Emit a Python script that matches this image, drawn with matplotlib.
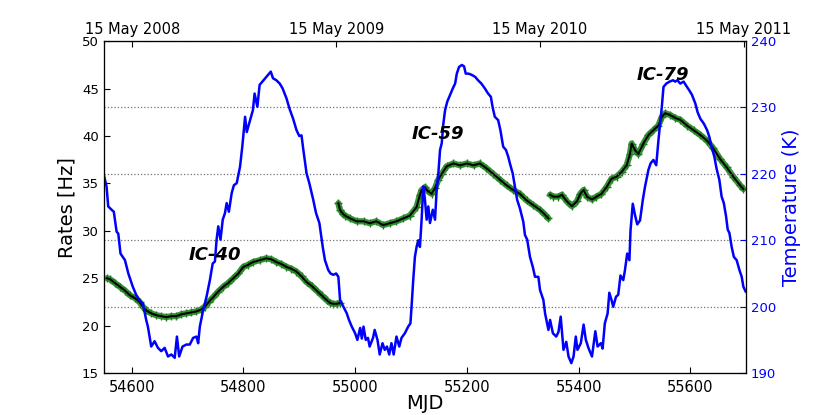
import matplotlib
matplotlib.use("Agg")
import matplotlib.pyplot as plt

# ---------------- data ----------------
temp_mjd = [54550, 54555, 54558, 54564, 54568, 54573, 54576, 54580, 54588, 54594,
            54602, 54608, 54614, 54620, 54626, 54629, 54635, 54641, 54647, 54653,
            54659, 54665, 54671, 54677, 54681, 54685, 54691, 54698, 54704, 54710,
            54716, 54719, 54722, 54728, 54734, 54740, 54745, 54749, 54752, 54755,
            54759, 54763, 54767, 54770, 54774, 54779, 54783, 54788, 54794, 54798,
            54803, 54806, 54811, 54817, 54820, 54825, 54829, 54835, 54841, 54849,
            54853, 54859, 54865, 54870, 54877, 54883, 54889, 54895, 54900, 54904,
            54907, 54913, 54918, 54925, 54930, 54936, 54942, 54946, 54952, 54956,
            54961, 54966, 54970, 54973, 54979, 54985, 54989, 54994, 55000, 55004,
            55009, 55012, 55015, 55019, 55023, 55026, 55032, 55035, 55040, 55044,
            55049, 55053, 55057, 55061, 55065, 55069, 55074, 55079, 55083, 55089,
            55095, 55099, 55101, 55104, 55107, 55110, 55113, 55116, 55119, 55122,
            55125, 55128, 55131, 55134, 55139, 55143, 55146, 55149, 55152, 55155,
            55158, 55161, 55165, 55170, 55175, 55179, 55182, 55186, 55191, 55195,
            55198, 55203, 55209, 55215, 55220, 55226, 55232, 55238, 55243, 55246,
            55250, 55256, 55260, 55265, 55270, 55274, 55277, 55282, 55286, 55290,
            55295, 55301, 55304, 55308, 55313, 55318, 55322, 55328, 55331, 55337,
            55340, 55346, 55349, 55354, 55360, 55364, 55368, 55373, 55378, 55382,
            55387, 55391, 55395, 55398, 55404, 55409, 55413, 55418, 55424, 55430,
            55434, 55440, 55443, 55447, 55452, 55455, 55459, 55462, 55467, 55471,
            55475, 55480, 55483, 55487, 55491, 55493, 55497, 55501, 55505, 55510,
            55515, 55519, 55525, 55529, 55534, 55539, 55543, 55546, 55549, 55552,
            55557, 55563, 55569, 55573, 55577, 55582, 55588, 55594, 55598, 55603,
            55609, 55613, 55618, 55624, 55630, 55634, 55638, 55643, 55647, 55652,
            55656, 55660, 55664, 55667, 55670, 55674, 55678, 55683, 55688, 55692,
            55695, 55699]
temp_k = [219.9, 218.1, 215.1, 214.6, 214.3, 211.3, 211.0, 208.0, 207.0, 205.0,
          203.0, 201.8, 201.0, 200.5, 198.0, 197.0, 194.0, 194.8, 193.8, 193.3,
          193.8, 192.5, 192.8, 192.3, 195.5, 192.5, 194.0, 194.3, 194.3, 195.3,
          195.5, 194.5, 197.0, 199.5, 201.5, 204.0, 206.5, 206.8, 210.1, 212.1,
          210.1, 213.1, 214.1, 215.6, 214.3, 217.1, 218.3, 218.6, 221.1, 224.1,
          228.6, 226.3, 227.8, 229.6, 232.1, 230.1, 233.4, 234.0, 234.6, 235.4,
          234.4, 234.1, 233.6, 232.9, 231.4, 229.7, 228.3, 226.6, 225.7, 225.8,
          223.8, 220.1, 218.6, 216.1, 214.1, 212.6, 209.0, 207.0, 205.5, 205.0,
          204.8, 205.0, 204.5, 201.0, 200.0, 199.0, 198.0, 197.0, 196.0, 195.0,
          196.8, 195.2, 197.0, 195.0, 195.3, 194.0, 195.3, 196.5, 195.0, 192.8,
          194.5, 193.5, 194.0, 192.8, 194.5, 192.8, 195.5, 194.0, 195.3, 196.0,
          197.0, 197.5, 200.0, 204.0, 207.5, 209.0, 210.0, 209.0, 213.1, 218.1,
          216.1, 213.1, 215.1, 212.6, 214.6, 213.1, 217.6, 220.1, 223.6, 224.6,
          227.6, 229.6, 230.9, 231.9, 232.9, 233.6, 235.1, 236.1, 236.4, 236.2,
          235.1, 235.1, 234.9, 234.6, 234.1, 233.6, 232.9, 232.1, 231.6, 230.1,
          228.6, 228.1, 226.6, 224.1, 223.6, 222.6, 221.6, 220.1, 218.1, 216.1,
          214.8, 212.8, 210.8, 210.1, 207.5, 206.0, 204.5, 204.5, 202.5, 201.0,
          199.0, 196.5, 198.0, 196.0, 195.5, 196.2, 198.5, 193.5, 194.7, 192.5,
          191.5, 192.5, 195.5, 193.5, 194.5, 197.3, 195.0, 193.7, 192.5, 196.3,
          194.0, 194.5, 193.7, 197.5, 199.0, 202.1, 201.0, 200.0, 201.5, 201.8,
          204.7, 204.0, 205.5, 208.0, 207.0, 211.5, 215.5, 213.8, 212.4, 213.0,
          216.1, 218.1, 220.6, 221.6, 222.1, 221.3, 225.1, 227.6, 230.1, 233.1,
          233.6, 233.9, 234.1, 233.9, 234.1, 233.6, 233.9, 233.1, 232.6, 231.9,
          230.6, 229.3, 228.3, 227.6, 226.6, 225.6, 224.1, 222.6, 220.8, 219.1,
          216.6, 215.6, 213.6, 211.6, 211.1, 209.0, 207.5, 207.0, 205.5, 204.5,
          203.0, 202.3]

ic40_mjd = [54556, 54561, 54570, 54579, 54588, 54597, 54606, 54614, 54620, 54626,
            54635, 54644, 54653, 54662, 54671, 54680, 54689, 54698, 54707, 54716,
            54724, 54731, 54738, 54746, 54755, 54764, 54773, 54782, 54791, 54800,
            54808, 54817, 54829, 54841, 54850, 54859, 54868, 54877, 54886, 54895,
            54904, 54913, 54922, 54931, 54940, 54949, 54955, 54961, 54967, 54973]
ic40_rate = [25.0, 24.9, 24.5, 24.1, 23.7, 23.2, 22.9, 22.5, 22.0, 21.6,
             21.3, 21.1, 21.0, 20.9, 21.0, 21.0, 21.2, 21.3, 21.4, 21.5,
             21.7, 22.0, 22.5, 23.0, 23.6, 24.1, 24.5, 25.0, 25.5, 26.2,
             26.4, 26.7, 26.9, 27.1, 27.0, 26.7, 26.5, 26.2, 26.0, 25.7,
             25.2, 24.6, 24.2, 23.7, 23.2, 22.7, 22.4, 22.3, 22.3, 22.4]

ic59_mjd = [54970, 54973, 54978, 54982, 54991, 55003, 55015, 55026, 55038, 55050,
            55062, 55074, 55086, 55098, 55110, 55116, 55119, 55125, 55128, 55137,
            55143, 55149, 55155, 55164, 55176, 55188, 55200, 55212, 55223, 55235,
            55247, 55259, 55271, 55283, 55295, 55307, 55319, 55331, 55340, 55346]
ic59_rate = [32.9, 32.2, 31.8, 31.6, 31.3, 31.0, 31.0, 30.8, 31.0, 30.6,
             30.8, 31.0, 31.3, 31.6, 32.5, 33.8, 34.3, 34.6, 34.3, 33.9,
             34.5, 35.4, 36.0, 36.8, 37.1, 36.9, 37.1, 36.9, 37.1, 36.6,
             36.0, 35.4, 34.8, 34.3, 33.9, 33.2, 32.7, 32.2, 31.7, 31.3]

ic79_mjd = [55349, 55355, 55364, 55370, 55379, 55388, 55397, 55403, 55409, 55415,
            55424, 55432, 55441, 55450, 55459, 55468, 55477, 55486, 55492, 55495,
            55501, 55507, 55516, 55525, 55534, 55543, 55549, 55555, 55564, 55573,
            55582, 55594, 55606, 55618, 55630, 55641, 55653, 55665, 55677, 55689,
            55695]
ic79_rate = [33.8, 33.6, 33.6, 33.8, 33.1, 32.6, 33.1, 33.9, 34.3, 33.6,
             33.3, 33.6, 33.9, 34.6, 35.5, 35.7, 36.2, 36.9, 38.1, 39.2,
             38.5, 38.1, 39.2, 40.1, 40.6, 41.1, 42.0, 42.4, 42.2, 41.9,
             41.7, 41.1, 40.6, 40.1, 39.5, 38.7, 37.6, 36.7, 35.7, 34.8,
             34.4]

season_labels = ["IC-40", "IC-59", "IC-79"]
season_label_pos = [(54749, 27.4), (55148, 40.2), (55551, 46.4)]

date_tick_mjd = [54601, 54966, 55331, 55696]
date_tick_labels = ["15 May 2008", "15 May 2009", "15 May 2010", "15 May 2011"]

# ---------------- plot ----------------
plt.rcParams['font.family'] = ['DejaVu Sans']
fig = plt.figure(figsize=(8.3, 4.15), dpi=100)
ax1 = fig.add_axes([0.125, 0.101, 0.774, 0.8])

green = '#1a801a'
for mj, rt in [(ic40_mjd, ic40_rate), (ic59_mjd, ic59_rate), (ic79_mjd, ic79_rate)]:
    ax1.plot(mj, rt, color=green, lw=4.5, alpha=0.85, solid_capstyle='round', zorder=2)
    ax1.plot(mj, rt, ls='none', marker='+', ms=6, mew=1.0, color=green, zorder=3)
    ax1.plot(mj, rt, color='black', lw=1.4, zorder=4)

ax1.set_xlim(54550, 55700)
ax1.set_ylim(15, 50)
ax1.set_xticks([54600, 54800, 55000, 55200, 55400, 55600])
ax1.set_yticks([15, 20, 25, 30, 35, 40, 45, 50])
ax1.tick_params(axis='x', direction='in', labelsize=10.5, pad=5, length=4)
ax1.tick_params(axis='y', direction='in', labelsize=9.5, length=4)
ax1.set_xlabel('MJD', fontsize=14, labelpad=-1)
ax1.set_ylabel('Rates [Hz]', fontsize=14, labelpad=4)

ax2 = ax1.twinx()
ax2.plot(temp_mjd, temp_k, color='#0000ff', lw=1.8, zorder=3)
ax2.set_ylim(190, 240)
ax2.set_yticks([190, 200, 210, 220, 230, 240])
ax2.tick_params(axis='y', direction='in', colors='#0000ff', labelsize=9.5, length=4)
ax2.spines['right'].set_color('black')
ax2.set_ylabel('Temperature (K)', color='#0000ff', fontsize=14, labelpad=4)
ax2.grid(axis='y', linestyle=':', color='0.45', lw=0.9)
ax2.set_xlim(54550, 55700)

for lab, (xm, yr) in zip(season_labels, season_label_pos):
    ax2.text(xm, yr, lab, transform=ax1.transData, fontsize=13, fontweight='bold',
             fontstyle='italic', ha='center', va='center', zorder=10)

ax3 = ax1.twiny()
ax3.set_xlim(54550, 55700)
ax3.set_xticks(date_tick_mjd)
ax3.set_xticklabels(date_tick_labels)
ax3.tick_params(axis='x', direction='in', labelsize=10.5, length=4, pad=3)

fig.savefig('out.png', dpi=100)
